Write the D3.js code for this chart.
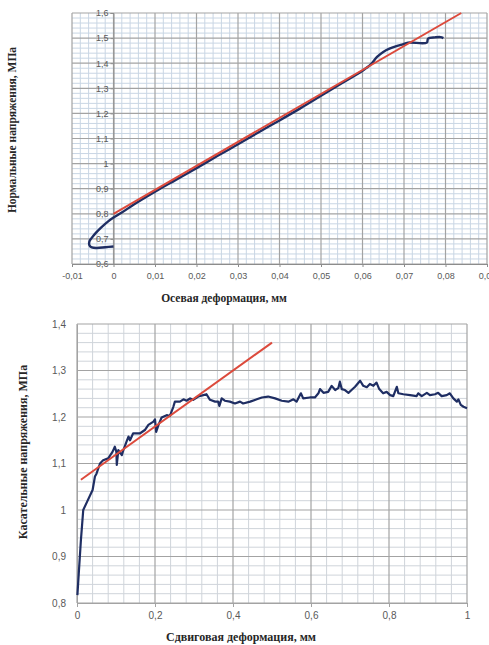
<!DOCTYPE html>
<html>
<head>
<meta charset="utf-8">
<script src="https://cdn.jsdelivr.net/npm/d3@7"></script>
<style>
  body { margin: 0; background: #fff; }
  svg { display: block; }
  .tick-label { font-family: "Liberation Sans", Arial, sans-serif; font-size: 9px; fill: #595959; }
  .axis-title { font-family: "Liberation Serif", "Times New Roman", serif; font-weight: bold; fill: #262626; }
</style>
</head>
<body>
<div id="chart"></div>
<script>
// Top chart: axial deformation vs normal stress
const axialTicks = [-0.01, 0, 0.01, 0.02, 0.03, 0.04, 0.05, 0.06, 0.07, 0.08, 0.09];
const normalTicks = [0.6, 0.7, 0.8, 0.9, 1, 1.1, 1.2, 1.3, 1.4, 1.5, 1.6];
const axialCurve = [
    [0.000, 0.670], [-0.002, 0.667], [-0.004, 0.664], [-0.0052, 0.666], [-0.0058, 0.675],
    [-0.0058, 0.690], [-0.0052, 0.705], [-0.0042, 0.725], [-0.003, 0.745], [-0.0015, 0.767],
    [0.000, 0.785], [0.002, 0.805], [0.005, 0.838], [0.010, 0.888], [0.015, 0.935],
    [0.020, 0.982], [0.025, 1.030], [0.030, 1.077], [0.035, 1.125], [0.040, 1.172],
    [0.045, 1.220], [0.050, 1.270], [0.055, 1.320], [0.060, 1.370], [0.062, 1.395],
    [0.0635, 1.425], [0.065, 1.445], [0.0665, 1.458], [0.068, 1.467], [0.0695, 1.474],
    [0.071, 1.482], [0.0755, 1.482], [0.0758, 1.498], [0.0775, 1.503], [0.0788, 1.504],
    [0.0795, 1.500]
];
const axialFit = [[0, 0.80], [0.0838, 1.6]];

// Bottom chart: shear deformation vs shear stress
const shearTicks = [0, 0.2, 0.4, 0.6, 0.8, 1];
const tangTicks = [0.8, 0.9, 1, 1.1, 1.2, 1.3, 1.4];
const shearCurve = [
    [0.001, 0.817], [0.005, 0.87], [0.010, 0.935], [0.016, 1.0], [0.026, 1.018],
    [0.040, 1.043], [0.046, 1.072], [0.050, 1.078], [0.059, 1.100], [0.067, 1.107],
    [0.080, 1.111], [0.091, 1.125], [0.097, 1.136], [0.101, 1.125], [0.102, 1.097],
    [0.106, 1.129], [0.115, 1.118], [0.119, 1.129], [0.127, 1.147], [0.132, 1.158],
    [0.136, 1.150], [0.144, 1.165], [0.162, 1.165], [0.174, 1.172], [0.183, 1.183],
    [0.196, 1.190], [0.200, 1.195], [0.203, 1.168], [0.209, 1.183], [0.217, 1.199],
    [0.230, 1.204], [0.238, 1.202], [0.247, 1.222], [0.251, 1.233], [0.264, 1.233],
    [0.273, 1.238], [0.281, 1.235], [0.290, 1.240], [0.298, 1.237], [0.311, 1.244],
    [0.324, 1.247], [0.332, 1.249], [0.341, 1.237], [0.354, 1.233], [0.362, 1.233],
    [0.365, 1.224], [0.371, 1.240], [0.379, 1.235], [0.392, 1.233], [0.405, 1.229],
    [0.418, 1.233], [0.426, 1.229], [0.444, 1.233], [0.461, 1.238], [0.474, 1.242],
    [0.490, 1.244], [0.508, 1.240], [0.525, 1.235], [0.542, 1.233], [0.555, 1.238],
    [0.563, 1.233], [0.574, 1.251], [0.580, 1.240], [0.597, 1.242], [0.610, 1.242],
    [0.619, 1.251], [0.623, 1.260], [0.632, 1.252], [0.644, 1.254], [0.653, 1.267],
    [0.662, 1.258], [0.670, 1.262], [0.674, 1.276], [0.679, 1.260], [0.687, 1.258],
    [0.696, 1.252], [0.704, 1.258], [0.713, 1.265], [0.726, 1.278], [0.734, 1.267],
    [0.743, 1.264], [0.751, 1.271], [0.760, 1.267], [0.768, 1.274], [0.775, 1.260],
    [0.785, 1.251], [0.794, 1.254], [0.803, 1.247], [0.811, 1.245], [0.820, 1.265],
    [0.824, 1.251], [0.837, 1.249], [0.854, 1.247], [0.871, 1.245], [0.875, 1.251],
    [0.884, 1.245], [0.897, 1.252], [0.905, 1.247], [0.918, 1.249], [0.926, 1.252],
    [0.935, 1.245], [0.948, 1.247], [0.956, 1.251], [0.965, 1.240], [0.974, 1.233],
    [0.978, 1.238], [0.984, 1.226], [0.991, 1.222], [1.000, 1.219]
];
const shearFit = [[0.01, 1.065], [0.5, 1.36]];

const width = 489, height = 645;
const svg = d3.select('#chart').append('svg')
    .attr('width', width)
    .attr('height', height);

function drawGrid(g, x, y, xMinor, yMinor, majorX, majorY, minorColor) {
    const [x0, x1] = x.range();
    const [y0, y1] = y.range();
    // minor lines
    g.append('g').selectAll('line').data(xMinor).enter().append('line')
        .attr('x1', d => x(d)).attr('x2', d => x(d))
        .attr('y1', y0).attr('y2', y1)
        .attr('stroke', minorColor).attr('stroke-width', 1);
    g.append('g').selectAll('line').data(yMinor).enter().append('line')
        .attr('y1', d => y(d)).attr('y2', d => y(d))
        .attr('x1', x0).attr('x2', x1)
        .attr('stroke', minorColor).attr('stroke-width', 1);
    // major lines
    g.append('g').selectAll('line').data(majorX).enter().append('line')
        .attr('x1', d => x(d)).attr('x2', d => x(d))
        .attr('y1', y0).attr('y2', y1)
        .attr('stroke', '#a3a3a3').attr('stroke-width', 1.2);
    g.append('g').selectAll('line').data(majorY).enter().append('line')
        .attr('y1', d => y(d)).attr('y2', d => y(d))
        .attr('x1', x0).attr('x2', x1)
        .attr('stroke', '#a3a3a3').attr('stroke-width', 1.2);
}

function subdivide(ticks, n) {
    const out = [];
    for (let i = 0; i < ticks.length - 1; i++) {
        const step = (ticks[i + 1] - ticks[i]) / n;
        for (let k = 1; k < n; k++) out.push(ticks[i] + step * k);
    }
    return out;
}

const fmt = d => String(+d.toFixed(2)).replace('.', ',');

// ---------- top chart ----------
{
    const x = d3.scaleLinear().domain([-0.01, 0.09]).range([72, 487]);
    const y = d3.scaleLinear().domain([0.6, 1.6]).range([264, 13]);
    const g = svg.append('g');

    drawGrid(g, x, y, subdivide(axialTicks, 5), subdivide(normalTicks, 5),
        axialTicks, normalTicks, '#c9d6e4');

    // y axis crosses at x = 0
    const yAxis = d3.axisLeft(y).tickValues(normalTicks).tickSize(3).tickFormat(fmt);
    const ya = g.append('g').attr('transform', `translate(${x(0)},0)`).call(yAxis);
    ya.select('.domain').attr('stroke', '#8c8c8c');
    ya.selectAll('.tick line').attr('stroke', '#8c8c8c');
    ya.selectAll('.tick text').attr('class', 'tick-label').attr('font-size', null)
        .attr('font-family', null).attr('fill', null).attr('x', -5);

    const xAxis = d3.axisBottom(x).tickValues(axialTicks).tickSize(3).tickFormat(fmt);
    const xa = g.append('g').attr('transform', `translate(0,${y(0.6)})`).call(xAxis);
    xa.select('.domain').attr('stroke', '#8c8c8c');
    xa.selectAll('.tick line').attr('stroke', '#8c8c8c');
    xa.selectAll('.tick text').attr('class', 'tick-label').attr('font-size', null)
        .attr('font-family', null).attr('fill', null).attr('y', 9);

    const line = d3.line().x(d => x(d[0])).y(d => y(d[1]));
    g.append('path').datum(axialCurve)
        .attr('d', line.curve(d3.curveCatmullRom.alpha(0.5)))
        .attr('fill', 'none').attr('stroke', '#1f2e63').attr('stroke-width', 2.4);
    g.append('path').datum(axialFit)
        .attr('d', d3.line().x(d => x(d[0])).y(d => y(d[1])))
        .attr('fill', 'none').attr('stroke', '#dc4a3c').attr('stroke-width', 2);

    svg.append('text').attr('class', 'axis-title')
        .attr('font-size', 11.5)
        .attr('text-anchor', 'middle')
        .attr('transform', 'translate(16,130) rotate(-90)')
        .text('Нормальные напряжения, МПа');
    svg.append('text').attr('class', 'axis-title')
        .attr('font-size', 11.5)
        .attr('text-anchor', 'middle')
        .attr('x', 224).attr('y', 302)
        .text('Осевая деформация, мм');
}

// ---------- bottom chart ----------
{
    const x = d3.scaleLinear().domain([0, 1]).range([77, 467]);
    const y = d3.scaleLinear().domain([0.8, 1.4]).range([603, 324]);
    const g = svg.append('g');

    drawGrid(g, x, y, subdivide(shearTicks, 5), subdivide(tangTicks, 5),
        shearTicks, tangTicks, '#cfd4da');

    const yAxis = d3.axisLeft(y).tickValues(tangTicks).tickSize(0).tickFormat(fmt);
    const ya = g.append('g').attr('transform', `translate(${x(0)},0)`).call(yAxis);
    ya.select('.domain').attr('stroke', '#a3a3a3');
    ya.selectAll('.tick text').attr('class', 'tick-label').attr('font-size', null)
        .style('font-size', '10px').attr('font-family', null).attr('fill', null).attr('x', -11);

    const xAxis = d3.axisBottom(x).tickValues(shearTicks).tickSize(4).tickFormat(fmt);
    const xa = g.append('g').attr('transform', `translate(0,${y(0.8)})`).call(xAxis);
    xa.select('.domain').attr('stroke', '#a3a3a3');
    xa.selectAll('.tick line').attr('stroke', '#a3a3a3');
    xa.selectAll('.tick text').attr('class', 'tick-label').attr('font-size', null)
        .style('font-size', '10px').attr('font-family', null).attr('fill', null).attr('y', 9);

    const line = d3.line().x(d => x(d[0])).y(d => y(d[1]));
    g.append('path').datum(shearCurve)
        .attr('d', line)
        .attr('fill', 'none').attr('stroke', '#1f2e63').attr('stroke-width', 2.2)
        .attr('stroke-linejoin', 'round');
    g.append('path').datum(shearFit)
        .attr('d', line)
        .attr('fill', 'none').attr('stroke', '#dc4a3c').attr('stroke-width', 2);

    svg.append('text').attr('class', 'axis-title')
        .attr('font-size', 12)
        .attr('text-anchor', 'middle')
        .attr('transform', 'translate(27,452) rotate(-90)')
        .text('Касательные напряжения, МПа');
    svg.append('text').attr('class', 'axis-title')
        .attr('font-size', 12)
        .attr('text-anchor', 'middle')
        .attr('x', 241).attr('y', 641)
        .text('Сдвиговая деформация, мм');
}
</script>
</body>
</html>
